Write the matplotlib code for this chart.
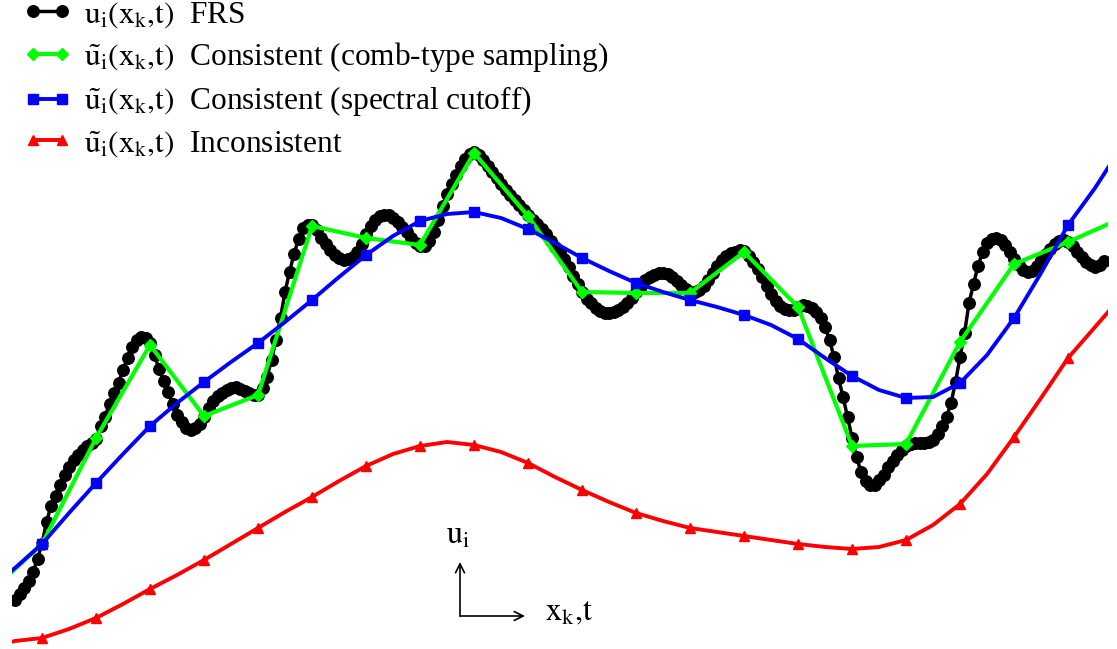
import numpy as np
import matplotlib.pyplot as plt
from matplotlib.lines import Line2D

plt.rcParams['font.family'] = ['Liberation Serif', 'DejaVu Serif']
plt.rcParams['mathtext.fontset'] = 'stix'

# values are read off the picture as "depth" from the top (y axis is flipped below)
# x is in units of the coarse sampling interval

# fully resolved signal, read every 1/6 of a sampling interval from x=-0.5
frs = [600, 588, 572, 544, 506, 485, 467, 455, 446, 439,
       417, 393, 370, 347, 337, 343, 369, 392, 415, 428,
       428, 417, 401, 393, 388, 389, 393, 395, 377, 340,
       292, 254, 228, 225, 238, 250, 258, 259, 252, 234,
       220, 215, 218, 227, 238, 246, 241, 220, 194, 175,
       159, 152, 160, 172, 184, 195, 205, 215, 224, 234,
       247, 259, 276, 292, 303, 311, 313, 310, 303, 292,
       280, 275, 273, 277, 285, 292, 290, 280, 266, 256,
       252, 251, 262, 277, 294, 306, 310, 307, 306, 312,
       327, 357, 397, 438, 472, 485, 480, 467, 455, 446,
       443, 443, 440, 426, 403, 357, 303, 266, 243, 238,
       245, 259, 270, 271, 260, 249, 241, 242, 252, 262,
       267, 261]
# same signal read half-way between the points above
frs_mid = [594, 581, 559, 522, 496, 475, 460, 450, 443, 426,
           404, 383, 358, 340, 338, 355, 381, 404, 422, 430,
           424, 408, 396, 390, 387, 391, 395, 388, 360, 318,
           272, 239, 225, 230, 244, 255, 260, 257, 244, 226,
           216, 215, 222, 232, 243, 246, 232, 206, 184, 166,
           154, 155, 166, 178, 190, 200, 210, 220, 229, 241,
           252, 267, 284, 299, 308, 313, 312, 307, 298, 286,
           277, 273, 274, 281, 289, 292, 286, 273, 260, 253,
           250, 256, 269, 286, 301, 309, 310, 305, 308, 318,
           340, 378, 417, 457, 481, 485, 475, 461, 450, 444,
           443, 442, 434, 417, 382, 333, 284, 252, 239, 240,
           252, 265, 272, 266, 254, 244, 240, 246, 257, 265,
           265]

# comb-type sampling, x = -1 .. 20
comb = [594, 544, 438, 345, 416, 395, 226, 238, 245, 153, 216,
        292, 293, 293, 252, 307, 446, 444, 342, 264, 242, 218]

# smooth curves, read every half interval, x = -1 .. 20
cutoff = [590, 568, 544, 513, 483, 454, 426, 403, 382, 362, 343,
          322, 300, 277, 255, 236, 221, 214, 212, 218, 229, 243,
          258, 271, 283, 292, 300, 307, 315, 325, 339, 358, 376,
          390, 398, 397, 383, 355, 318, 273, 225, 188, 146]
incons = [648, 641, 638, 629, 618, 604, 589, 575, 560, 544, 528,
          512, 497, 481, 466, 454, 446, 442, 445, 452, 463, 477,
          490, 502, 513, 521, 528, 532, 536, 540, 544, 547, 549,
          547, 540, 525, 504, 474, 437, 398, 358, 327, 296]

# merge the two FRS readings into one fine series
x_frs = -0.5 + np.arange(len(frs) + len(frs_mid)) / 12
y_frs = np.empty(len(x_frs))
y_frs[0::2] = frs
y_frs[1::2] = frs_mid

x_comb = np.arange(len(comb)) - 1.0
x_half = -1 + np.arange(len(cutoff)) / 2
cutoff = np.array(cutoff)
incons = np.array(incons)
marks = slice(2, 41, 2)

fig = plt.figure(figsize=(11.17, 6.49), dpi=100)
ax = fig.add_axes([12 / 1117, 0, 1096 / 1117, 1])
ax.set_xlim(-0.5556, 19.74)
ax.set_ylim(649, 0)
ax.axis('off')

styles = {
    'frs': dict(color='black', lw=2.5, marker='o', ms=8.3),
    'comb': dict(color='#00ff00', lw=3.0, marker='D', ms=6),
    'cut': dict(color='#0000ff', lw=2.8, marker='s', ms=7),
    'inc': dict(color='#ff0000', lw=2.8, marker='^', ms=7),
}

ax.plot(x_frs, y_frs, **styles['frs'])
ax.plot(x_comb, comb, color='#00ff00', lw=3.0)
ax.plot(x_comb[1:-1], comb[1:-1], ls='none', color='#00ff00', marker='D', ms=6)
ax.plot(x_half, cutoff, color='#0000ff', lw=2.8)
ax.plot(x_half[marks], cutoff[marks], ls='none', color='#0000ff', marker='s', ms=7)
ax.plot(x_half, incons, color='#ff0000', lw=2.8)
ax.plot(x_half[marks], incons[marks], ls='none', color='#ff0000', marker='^', ms=7)

labels = [r'$\mathrm{u_i(x_k{,}t)}$  FRS',
          r'$\mathrm{\tilde{u}_i(x_k{,}t)}$  Consistent (comb-type sampling)',
          r'$\mathrm{\tilde{u}_i(x_k{,}t)}$  Consistent (spectral cutoff)',
          r'$\mathrm{\tilde{u}_i(x_k{,}t)}$  Inconsistent']
handles = [Line2D([], [], **styles[k]) for k in ['frs', 'comb', 'cut', 'inc']]
fig.legend(handles, labels, loc='upper left', bbox_to_anchor=(24 / 1117, 1.0),
           frameon=False, fontsize=22.6, numpoints=2, handlelength=1.5,
           handletextpad=0.4, labelspacing=0.33, borderpad=0, borderaxespad=0)

# little axis glyph
arrow = dict(arrowstyle='->', lw=1.2, color='black', shrinkA=0, shrinkB=0,
             mutation_scale=16)
fig.add_artist(plt.Annotation('', xy=(460 / 1117, 1 - 562 / 649), xytext=(460 / 1117, 1 - 616 / 649),
                              xycoords='figure fraction', arrowprops=arrow))
fig.add_artist(plt.Annotation('', xy=(525 / 1117, 1 - 616 / 649), xytext=(460 / 1117, 1 - 616 / 649),
                              xycoords='figure fraction', arrowprops=arrow))
fig.text(458 / 1117, 1 - 543 / 649, r'$\mathrm{u_i}$', fontsize=23, ha='center', va='baseline')
fig.text(545 / 1117, 1 - 620 / 649, r'$\mathrm{x_k{,}t}$', fontsize=23, ha='left', va='baseline')

fig.savefig('out.png', dpi=100)
